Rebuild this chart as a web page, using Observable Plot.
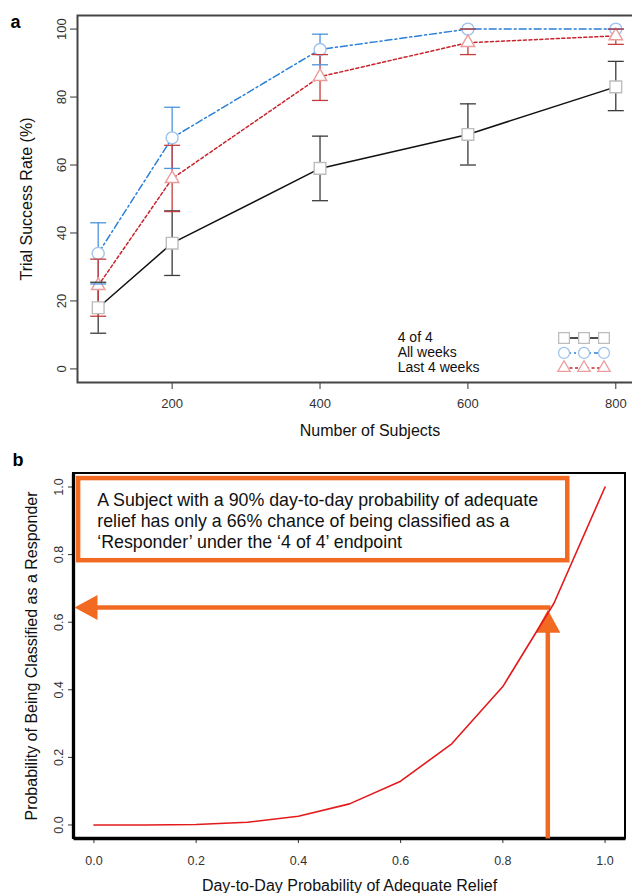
<!DOCTYPE html>
<html><head><meta charset="utf-8">
<script src="https://cdn.jsdelivr.net/npm/d3@7"></script>
<script src="https://cdn.jsdelivr.net/npm/@observablehq/plot@0.6"></script>
<style>
html,body{margin:0;padding:0;background:#fff;overflow:hidden;width:632px;height:893px}
#chart{width:640px}
#chart svg{display:block}
</style></head><body><div id="chart"></div>
<script>
const subjects = [100, 200, 400, 600, 800];
const seriesNames = ["4 of 4", "All weeks", "Last 4 weeks"];
const rate4of4 = [18, 37, 59, 69, 83];
const lo4of4   = [10.5, 27.5, 49.5, 60, 76];
const hi4of4   = [25.5, 46.5, 68.5, 78, 90.5];
const rateAll  = [34, 68, 94, 100, 100];
const loAll    = [25, 59, 89.5, 100, 100];
const hiAll    = [43, 77, 98.5, 100, 100];
const rateLast = [24.5, 56, 86, 96, 98];
const loLast   = [15.5, 46.3, 79, 92.5, 95.5];
const hiLast   = [32.3, 65.8, 92.5, 100, 100];
const xTicksA = [200, 400, 600, 800];
const yTicksA = [0, 20, 40, 60, 80, 100];

const dailyProb = [0, 0.1, 0.2, 0.3, 0.4, 0.5, 0.6, 0.7, 0.8, 0.9, 1.0];
const responderProb = [0, 0.0001, 0.0016, 0.0081, 0.0256, 0.0625, 0.1296, 0.2401, 0.4096, 0.6561, 1.0];
const ticksB = [0, 0.2, 0.4, 0.6, 0.8, 1.0];
const noteLines = [
  "A Subject with a 90% day-to-day probability of adequate",
  "relief has only a 66% chance of being classified as a",
  "\u2018Responder\u2019 under the \u20184 of 4\u2019 endpoint"
];
const arrowDaily = 0.888;
const arrowResp = 0.6435;

const lineColor = ["#111111", "#2a7fd6", "#c9232b"];
const lineDash = [null, "7,3,2,3", "3,2.5"];
const barColor = ["#3a3a3a", "#4d94dc", "#c43c3c"];
const markColor = ["#bdbdbd", "#9ec3ec", "#ec9c9c"];
const markSymbol = ["square", "circle", "triangle"];
const markR = [6.6, 6, 5];
const orange = "#f26a21";
const font = "Liberation Sans, Arial, Helvetica, sans-serif";

const rateS = [rate4of4, rateAll, rateLast];
const loS = [lo4of4, loAll, loLast];
const hiS = [hi4of4, hiAll, hiLast];
const rows = seriesNames.map((s, i) => subjects.map((n, j) => ({series: s, k: i, n, rate: rateS[i][j], lo: loS[i][j], hi: hiS[i][j]})));

const capSymbol = {draw(ctx) { ctx.moveTo(-8, 0); ctx.lineTo(8, 0); }};
const headUp = {draw(ctx) { ctx.moveTo(0, 0); ctx.lineTo(12.5, 23); ctx.lineTo(-12.5, 23); ctx.closePath(); }};
const headLeft = {draw(ctx) { ctx.moveTo(0, 0); ctx.lineTo(23, -12.5); ctx.lineTo(23, 12.5); ctx.closePath(); }};

const legendTextX = 505;
const legendSymbolX = [730, 757, 784];
const legendRowY = [9.1, 4.7, 0.3];
const legendSymbols = seriesNames.flatMap((s, i) => legendSymbolX.map(x => ({k: i, x, y: legendRowY[i]})));

const marksA = [Plot.frame({stroke: "#444", strokeWidth: 2})];
rows.forEach((r, i) => {
  marksA.push(Plot.line(r, {x: "n", y: "rate", stroke: lineColor[i], strokeWidth: 1.5, strokeDasharray: lineDash[i]}));
});
rows.forEach((r, i) => {
  marksA.push(Plot.ruleX(r, {x: "n", y1: "lo", y2: "hi", stroke: barColor[i], strokeWidth: 1.3}));
});
rows.forEach((r, i) => {
  marksA.push(Plot.dot(r, {x: "n", y: "rate", symbol: markSymbol[i], r: markR[i], stroke: markColor[i], fill: "white", strokeWidth: 1.4}));
});
rows.forEach((r, i) => {
  marksA.push(Plot.dot(r, {x: "n", y: "lo", symbol: capSymbol, stroke: barColor[i], fill: "none", strokeWidth: 1.3}));
  marksA.push(Plot.dot(r, {x: "n", y: "hi", symbol: capSymbol, stroke: barColor[i], fill: "none", strokeWidth: 1.3}));
});
seriesNames.forEach((s, i) => {
  marksA.push(Plot.link([s], {x1: legendSymbolX[0], x2: legendSymbolX[2], y1: legendRowY[i], y2: legendRowY[i], stroke: lineColor[i], strokeWidth: 1.5, strokeDasharray: lineDash[i]}));
  marksA.push(Plot.dot(legendSymbols.filter(d => d.k === i), {x: "x", y: "y", symbol: markSymbol[i], r: markR[i] * 0.92, stroke: markColor[i], fill: "white", strokeWidth: 1.3}));
});
marksA.push(Plot.text(seriesNames, {x: legendTextX, y: (d, i) => legendRowY[i], text: d => d, textAnchor: "start", lineAnchor: "middle", fontSize: 14, fill: "#111"}));
marksA.push(Plot.text(["Trial Success Rate (%)"], {frameAnchor: "left", dx: -45.5, rotate: -90, textAnchor: "middle", lineAnchor: "bottom", fontSize: 16, fill: "#111"}));
marksA.push(Plot.text(["Number of Subjects"], {frameAnchor: "bottom", dx: 13, dy: 53, textAnchor: "middle", lineAnchor: "bottom", fontSize: 16, fill: "#111"}));
marksA.push(Plot.text(["a"], {frameAnchor: "top-left", dx: -67, dy: 12, textAnchor: "start", lineAnchor: "bottom", fontSize: 18, fontWeight: "bold", fill: "#000"}));

const plotA = Plot.plot({
  width: 640, height: 445,
  marginLeft: 77, marginRight: 4, marginTop: 15, marginBottom: 63,
  style: {fontFamily: font, fontSize: "13px", color: "#333", background: "white", maxWidth: "none"},
  x: {domain: [72, 828], ticks: xTicksA, tickSize: 7, tickPadding: 9, label: null},
  y: {domain: [-4, 104], ticks: yTicksA, tickSize: 7, tickPadding: 5, tickRotate: -90, label: null},
  marks: marksA
});

const curve = dailyProb.map((p, i) => ({p, r: responderProb[i]}));
const domB = [-0.04, 1.04];
const plotB = Plot.plot({
  width: 640, height: 448,
  marginLeft: 73, marginRight: 15, marginTop: 28, marginBottom: 55,
  style: {fontFamily: font, fontSize: "12.5px", color: "#333", background: "white", maxWidth: "none"},
  x: {domain: domB, ticks: ticksB, tickFormat: d3.format(".1f"), tickSize: 5, tickPadding: 13, label: null},
  y: {domain: domB, ticks: ticksB, tickFormat: d3.format(".1f"), tickSize: 5, tickPadding: 6, tickRotate: -90, label: null},
  marks: [
    Plot.rect([domB], {x1: domB[0], x2: domB[1], y1: domB[0], y2: domB[1], stroke: "#000", strokeWidth: 2, fill: "none"}),
    Plot.link([domB], {x1: domB[0], x2: domB[0], y1: domB[0], y2: domB[1], stroke: "#000", strokeWidth: 3.3}),
    Plot.link([domB], {x1: domB[0], x2: domB[1], y1: domB[0], y2: domB[0], stroke: "#000", strokeWidth: 3.3}),
    Plot.rect([noteLines], {x1: -0.03, x2: 0.927, y1: 0.782, y2: 1.025, stroke: orange, strokeWidth: 4.5, fill: "none"}),
    Plot.text(noteLines, {x: 0.0064, y: (d, i) => [0.945, 0.883, 0.821][i], text: d => d, textAnchor: "start", lineAnchor: "bottom", fontSize: 17.8, fill: "#111"}),
    Plot.link([arrowResp], {x1: arrowDaily + 0.005, x2: -0.02, y1: arrowResp, y2: arrowResp, stroke: orange, strokeWidth: 4.5}),
    Plot.dot([arrowResp], {x: -0.038, y: arrowResp, symbol: headLeft, fill: orange, stroke: "none"}),
    Plot.link([arrowDaily], {x1: arrowDaily, x2: arrowDaily, y1: -0.04, y2: arrowResp - 0.03, stroke: orange, strokeWidth: 4.5}),
    Plot.dot([arrowDaily], {x: arrowDaily, y: arrowResp - 0.007, symbol: headUp, fill: orange, stroke: "none"}),
    Plot.line(curve, {x: "p", y: "r", stroke: "#e31a1c", strokeWidth: 1.6}),
    Plot.text(["Probability of Being Classified as a Responder"], {frameAnchor: "left", dx: -37, rotate: -90, textAnchor: "middle", lineAnchor: "bottom", fontSize: 16, fill: "#111"}),
    Plot.text(["Day-to-Day Probability of Adequate Relief"], {frameAnchor: "bottom", dy: 52, textAnchor: "middle", lineAnchor: "bottom", fontSize: 16, fill: "#111"}),
    Plot.text(["b"], {frameAnchor: "top-left", dx: -61, dy: -8, textAnchor: "start", lineAnchor: "bottom", fontSize: 18, fontWeight: "bold", fill: "#000"})
  ]
});

const chart = document.getElementById("chart");
chart.appendChild(plotA);
chart.appendChild(plotB);
</script>
</body></html>
